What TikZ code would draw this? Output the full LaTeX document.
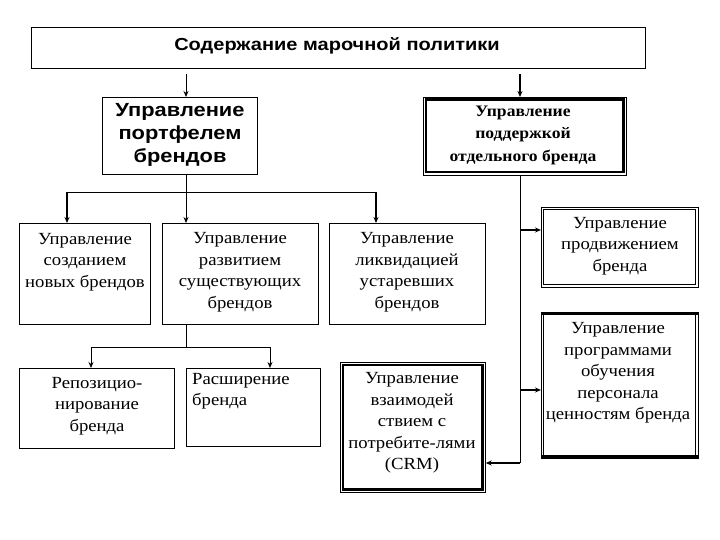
\documentclass[tikz,border=0pt]{standalone}
\usepackage{fontspec}
\setmainfont[FakeStretch=1.1]{Liberation Serif}
\newfontfamily\hsans[FakeStretch=1.15]{Liberation Sans}
\usetikzlibrary{arrows.meta}
\begin{document}
\begin{tikzpicture}[x=1pt,y=-1pt,
  box/.style={draw,line width=0.9pt,inner sep=0pt,anchor=north west},
  txt/.style={align=center,inner sep=0pt,font=\fontsize{17}{21.5}\selectfont},
  htxt/.style={align=center,inner sep=0pt,font=\hsans\bfseries\fontsize{19}{23}\selectfont},
  conn/.style={line width=0.8pt},
  bconn/.style={line width=1.6pt},
  arr/.style={-{Stealth[length=6pt,width=5pt]}},
]
\useasboundingbox (0,0) rectangle (720,540);
\fill[white] (0,0) rectangle (720,540);

% boxes
\node[box,minimum width=614pt,minimum height=41pt] (top) at (31,27) {};
\node[htxt,font=\hsans\bfseries\fontsize{17.4}{22}\selectfont] (toptxt) at (337,46) {Содержание марочной политики};

\node[box,minimum width=155pt,minimum height=77pt] (port) at (102,97) {};
\node[htxt] (porttxt) at (180,135) {Управление\\портфелем\\брендов};

\node[box,line width=0.7pt,minimum width=203pt,minimum height=78pt] (supp) at (423,97) {};
\draw[line width=2.6pt] (425.8,99.8) rectangle (623.2,172.2);
\node[txt,font=\bfseries\fontsize{16}{22.5}\selectfont] (supptxt) at (523,135) {Управление\\поддержкой\\отдельного бренда};

\node[box,minimum width=131pt,minimum height=101pt] (A) at (19,223) {};
\node[txt] (Atxt) at (85,262) {Управление\\созданием\\новых брендов};

\node[box,minimum width=156pt,minimum height=101pt] (B) at (162,223) {};
\node[txt] (Btxt) at (240,272) {Управление\\развитием\\существующих\\брендов};

\node[box,minimum width=156pt,minimum height=101pt] (C) at (329,223) {};
\node[txt] (Ctxt) at (407,272) {Управление\\ликвидацией\\устаревших\\брендов};

\node[box,minimum width=155pt,minimum height=80pt] (D) at (19,368) {};
\node[txt] (Dtxt) at (97,406) {Репозицио-\\нирование\\бренда};

\node[box,minimum width=134pt,minimum height=78pt] (E) at (186,368) {};
\node[txt,align=left,anchor=north west] (Etxt) at (192,373) {Расширение\\бренда};

\node[box,line width=0.7pt,minimum width=145pt,minimum height=130pt] (crm) at (340,362) {};
\draw[line width=2.6pt] (342.8,364.8) rectangle (482.2,489.2);
\node[txt] (crmtxt) at (412,423) {Управление\\взаимодей\\ствием с\\потребите-лями\\(CRM)};

\node[box,line width=0.7pt,minimum width=157pt,minimum height=80pt] (prom) at (541,207) {};
\draw[line width=0.7pt] (543.5,209.5) rectangle (695.5,284.5);
\node[txt] (promtxt) at (620,246) {Управление\\продвижением\\бренда};

\node[box,line width=0.7pt,minimum width=157pt,minimum height=146pt] (train) at (541,312) {};
\draw[line width=0.7pt] (543.5,314.5) rectangle (695.5,455.5);
\draw[line width=3pt] (541,313.5) -- (698,313.5);
\draw[line width=3pt] (541,456.5) -- (698,456.5);
\node[txt] (traintxt) at (618,373) {Управление\\программами\\обучения\\персонала\\ценностям бренда};

% coordinates
\coordinate (t1) at (186,74);
\coordinate (t2) at (520,74);
\coordinate (b1) at (67,192);
\coordinate (b2) at (376,192);
\coordinate (c0) at (186,347);
\coordinate (c1) at (91,347);
\coordinate (c2) at (270,347);
\coordinate (r0) at (520,175);
\coordinate (r1) at (520,230);
\coordinate (r2) at (520,390);
\coordinate (r3) at (520,463);

% connectors
\draw[conn,arr] (t1) -- (t1 |- port.north);
\draw[bconn,arr] (t2) -- (t2 |- supp.north);
\draw[conn,arr] (port.south -| t1) -- (t1 |- A.north);
\draw[bconn,arr] (b1) -- (b1 |- A.north);
\draw[bconn,arr] (b2) -- (b2 |- C.north);
\draw[conn] (b1) -- (b2);
\draw[conn] (t1 |- B.south) -- (c0);
\draw[conn] (c1) -- (c2);
\draw[conn,arr] (c1) -- (c1 |- D.north);
\draw[conn,arr] (c2) -- (c2 |- E.north);
\draw[conn] (r0) -- (r3);
\draw[bconn,arr] (r1) -- (r1 -| prom.west);
\draw[bconn,arr] (r2) -- (r2 -| train.west);
\draw[bconn,arr] (r3) -- (r3 -| crm.east);
\end{tikzpicture}
\end{document}
